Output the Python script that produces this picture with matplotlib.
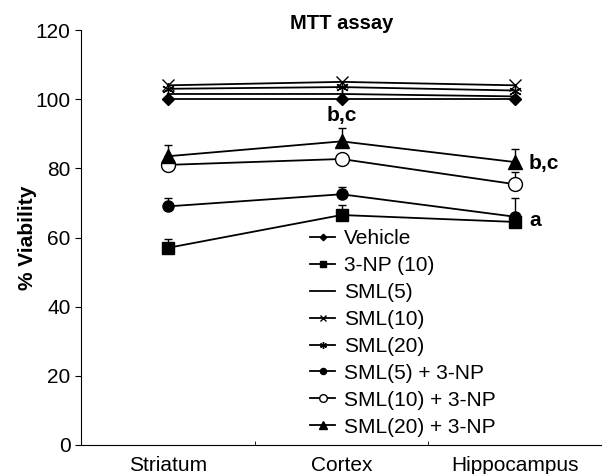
import matplotlib
matplotlib.use("Agg")
import matplotlib.pyplot as plt
from matplotlib.lines import Line2D

regions = ["Striatum", "Cortex", "Hippocampus"]

vehicle = [100, 100, 100]
np10 = [57, 66.5, 64.5]
sml5 = [101.5, 101.5, 100.8]
sml10 = [104, 105, 104]
sml20 = [103, 103.5, 102.5]
sml5_np = [69, 72.5, 66]
sml10_np = [81, 82.7, 75.4]
sml20_np = [83.5, 87.8, 81.8]

np10_err = [2.6, 2.9, 0]
sml5_np_err = [2.5, 2.2, 5.4]
sml10_np_err = [0, 0, 3.5]
sml20_np_err = [3.3, 4.0, 3.8]

plt.rcParams["font.family"] = ["Liberation Sans", "DejaVu Sans"]

fig = plt.figure(figsize=(6.02, 4.74), dpi=100)
ax = fig.add_axes([81 / 602, 1 - 445 / 474, 1 - 81 / 602, 415 / 474])

x = list(range(len(regions)))

# marker style per series, also reused for the legend
styles = [
    ("Vehicle", vehicle, None, dict(marker="D", ms=6)),
    ("3-NP (10)", np10, np10_err, dict(marker="s", ms=8)),
    ("SML(5)", sml5, None, dict(marker="None")),
    ("SML(10)", sml10, None, dict(marker="x", ms=9, mew=1)),
    ("SML(20)", sml20, None, dict(marker=(6, 2, 0), ms=9, mew=1)),
    ("SML(5) + 3-NP", sml5_np, sml5_np_err, dict(marker="o", ms=8)),
    ("SML(10) + 3-NP", sml10_np, sml10_np_err, dict(marker="o", ms=10, mfc="white")),
    ("SML(20) + 3-NP", sml20_np, sml20_np_err, dict(marker="^", ms=10)),
]

handles = []
for label, vals, err, st in styles:
    if err is None:
        ax.plot(x, vals, color="black", lw=1.3, **st)
    else:
        ax.errorbar(x, vals, yerr=[[0] * 3, err], color="black", lw=1.3,
                    capsize=3, elinewidth=1, **st)
    handles.append(Line2D([], [], color="black", lw=1.3, label=label, **st))

ax.set_xlim(-0.5, 2.5)
ax.set_ylim(0, 120)
ax.set_yticks(range(0, 121, 20))
ax.set_xticks(x)
ax.set_xticklabels(regions, fontsize=15)
ax.set_xticks([0.5, 1.5], minor=True)
ax.tick_params(axis="x", which="major", length=0, pad=8)
ax.tick_params(axis="x", which="minor", length=3, direction="in")
ax.tick_params(axis="y", labelsize=15, length=4)
ax.spines["top"].set_visible(False)
ax.spines["right"].set_visible(False)
ax.set_ylabel("% Viability", fontsize=15, fontweight="bold")
ax.yaxis.set_label_coords(-0.085, 0.5)
ax.text(0.5, 1.015, "MTT assay", transform=ax.transAxes, ha="center", va="center",
        fontsize=14.5, fontweight="bold")

ax.text(1, 98, "b,c", ha="center", va="top", fontsize=15, fontweight="bold")
ax.text(2.08, 81.5, "b,c", ha="left", va="center", fontsize=15, fontweight="bold")
ax.text(2.08, 65, "a", ha="left", va="center", fontsize=15, fontweight="bold")

ax.legend(handles=handles, loc="upper left", bbox_to_anchor=(0.44, 0.52), frameon=False,
          fontsize=15, markerscale=0.55, handlelength=1.2, handletextpad=0.4,
          labelspacing=0.38, borderpad=0, borderaxespad=0)

fig.savefig("out.png", dpi=100)
